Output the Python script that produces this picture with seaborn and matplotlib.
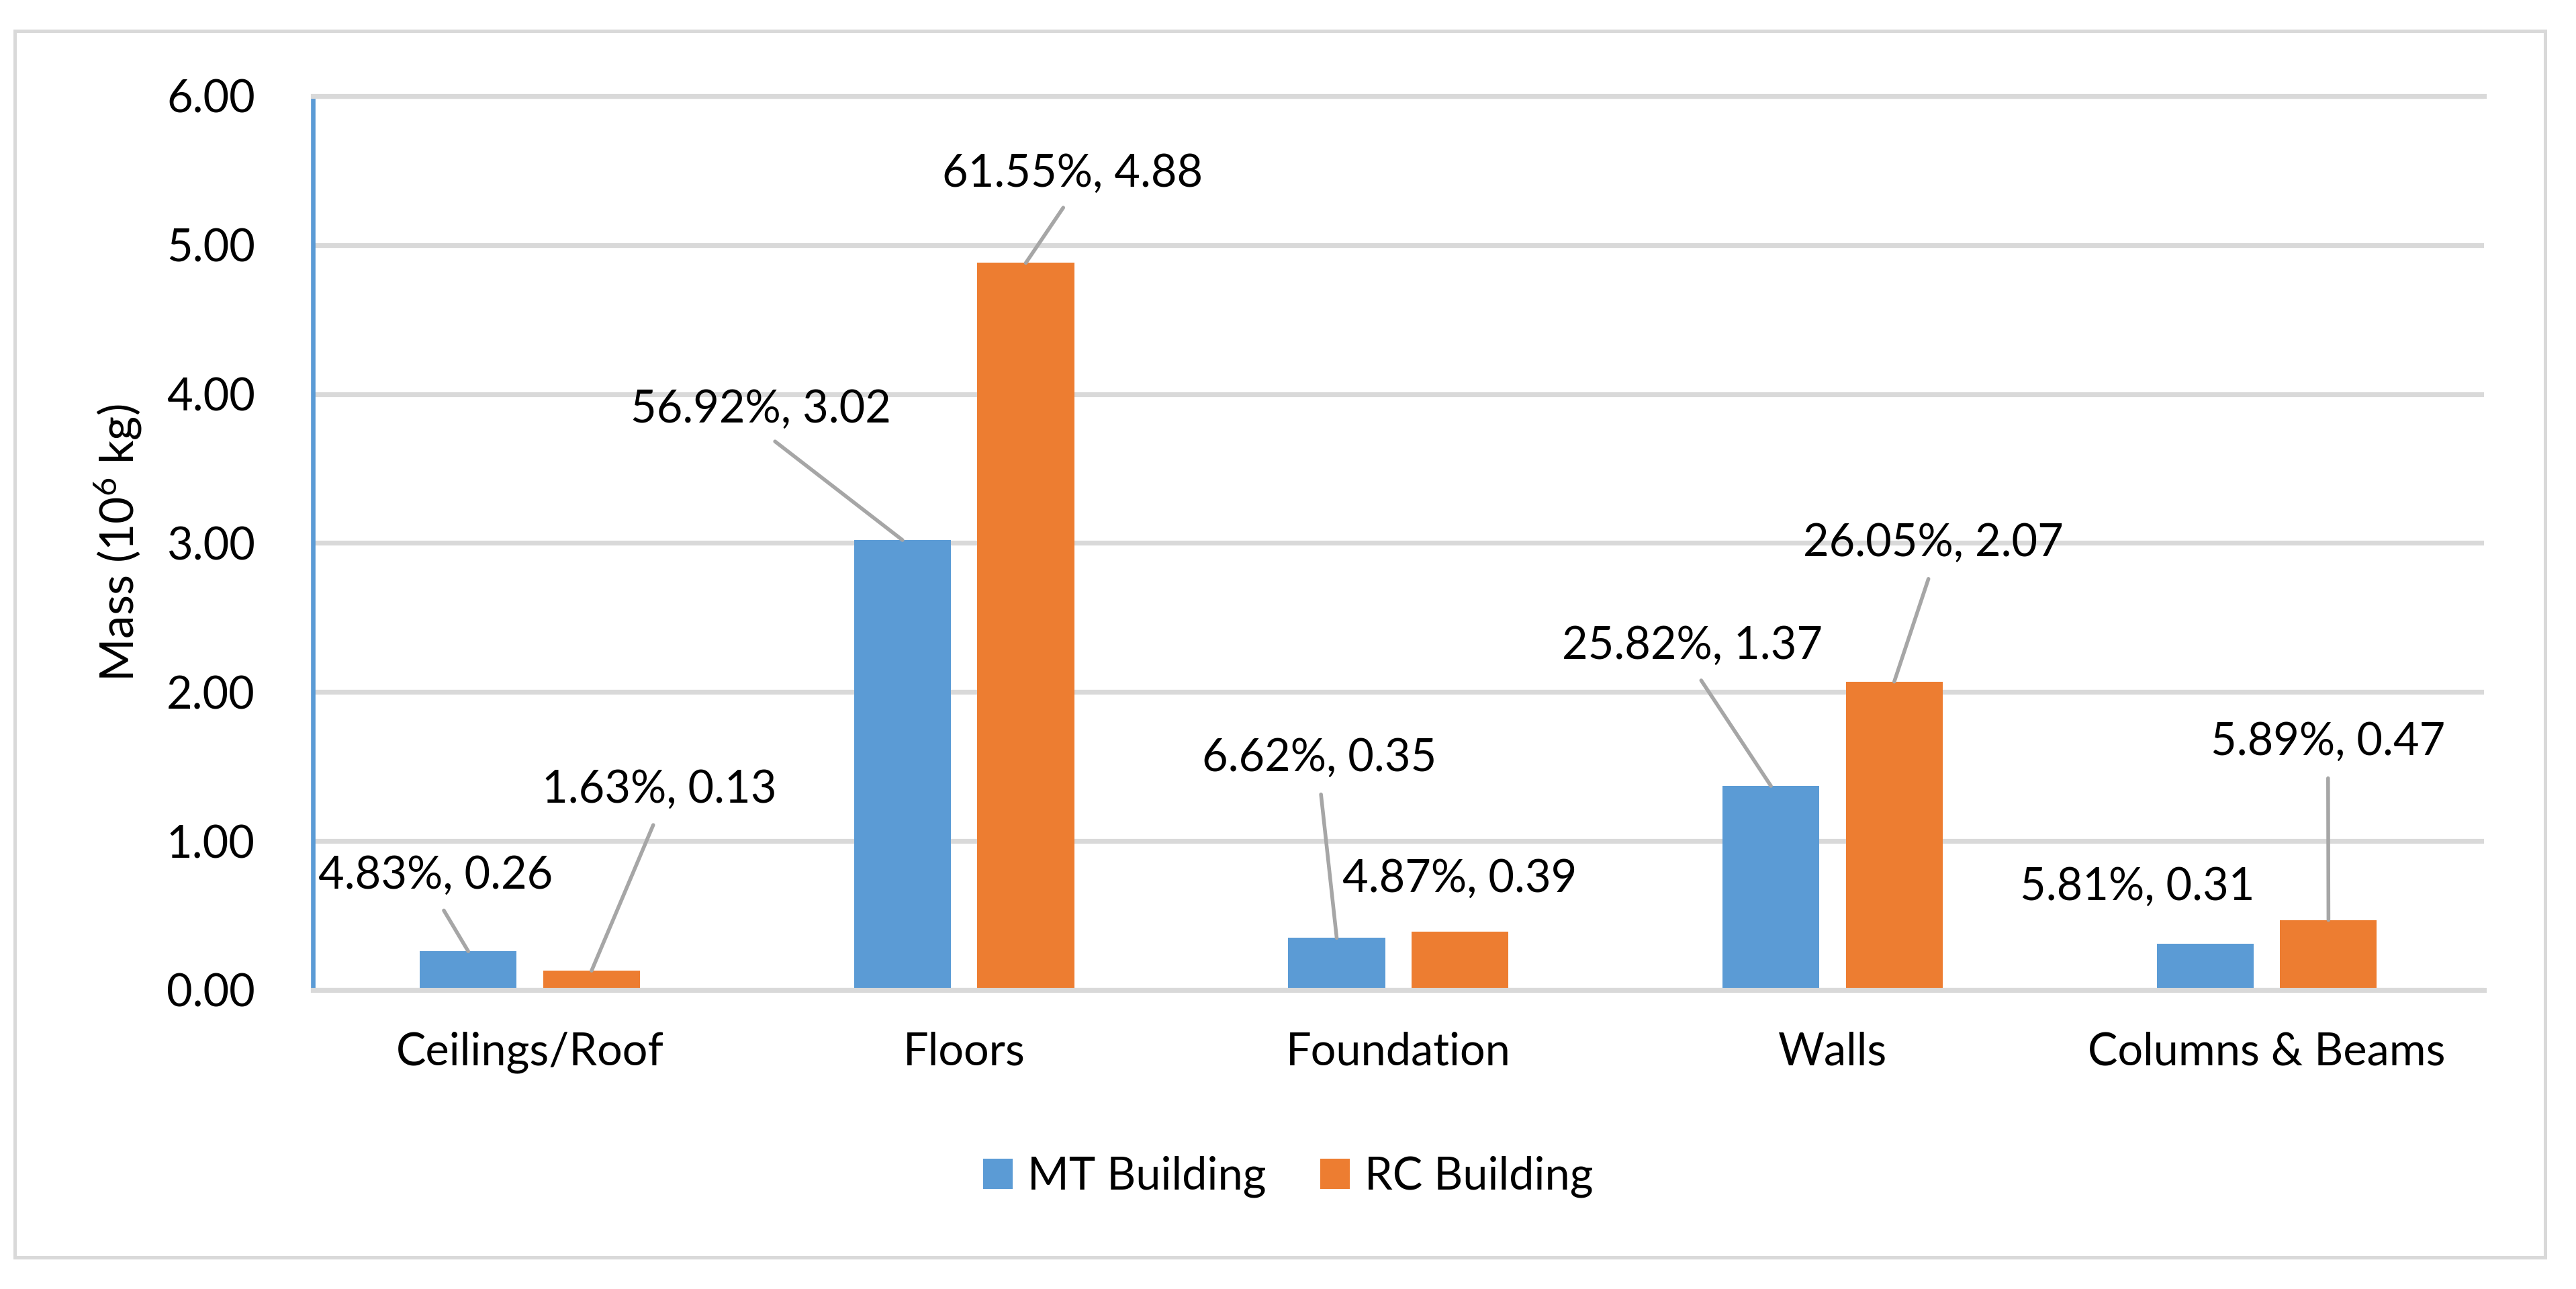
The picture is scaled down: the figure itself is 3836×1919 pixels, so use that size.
import pandas as pd
import matplotlib.pyplot as plt
import seaborn as sns
from matplotlib.patches import Rectangle

components = ['Ceilings/Roof', 'Floors', 'Foundation', 'Walls', 'Columns & Beams']
buildings = ['MT Building', 'RC Building']
mt_mass = [0.26, 3.02, 0.35, 1.37, 0.31]
rc_mass = [0.13, 4.88, 0.39, 2.07, 0.47]
mt_share = ['4.83%', '56.92%', '6.62%', '25.82%', '5.81%']
rc_share = ['1.63%', '61.55%', '4.87%', '26.05%', '5.89%']
y_ticks = [0, 1, 2, 3, 4, 5, 6]

# where the data labels sit (data coords) and whether they get a leader line
mt_label_pos = [(-0.217, 0.766), (0.532, 3.895), (1.818, 1.555), (2.677, 2.308), (3.702, 0.69)]
mt_leader = [True, True, True, True, False]
rc_label_pos = [(0.298, 1.344), (1.249, 5.48), (2.141, 0.744), (3.232, 2.998), (4.141, 1.664)]
rc_leader = [True, True, False, True, True]

df = pd.DataFrame({
    'component': components * 2,
    'building': [buildings[0]] * 5 + [buildings[1]] * 5,
    'mass': mt_mass + rc_mass,
})

sns.set_style('white')
plt.rcParams['font.family'] = ['Lato', 'DejaVu Sans']
plt.rcParams['mathtext.fontset'] = 'custom'
plt.rcParams['mathtext.rm'] = 'Lato'
plt.rcParams['mathtext.it'] = 'Lato:italic'
plt.rcParams['text.color'] = 'black'

fs = 24
blue = '#5b9bd5'
orange = '#ed7d31'
grid_gray = '#d9d9d9'
leader_gray = '#a6a6a6'

fig = plt.figure(figsize=(19.185, 9.595), dpi=200)
ax = fig.add_axes([0.1214, 0.2319, 0.8426, 0.6936])

sns.barplot(data=df, x='component', y='mass', hue='building', order=components,
            hue_order=buildings, palette=[blue, orange], saturation=1,
            width=0.568, gap=0.215, errorbar=None, linewidth=0, ax=ax)

ax.set_ylim(0, 6)
ax.set_xlim(-0.5, 4.5)
ax.set_yticks(y_ticks)
ax.set_yticklabels([f'{t:.2f}' for t in y_ticks])
ax.yaxis.grid(True, color=grid_gray, lw=2.6)
ax.set_axisbelow(True)
for side in ['top', 'bottom']:
    ax.spines[side].set_color(grid_gray)
    ax.spines[side].set_linewidth(2.6)
ax.spines['right'].set_visible(False)
ax.spines['left'].set_color(blue)
ax.spines['left'].set_linewidth(2.4)
ax.tick_params(axis='y', length=0, pad=31, labelsize=fs, labelcolor='black')
ax.tick_params(axis='x', length=0, pad=22, labelsize=fs, labelcolor='black')
ax.set_xlabel('')
ax.set_ylabel('Mass (10$^{6}$ kg)', fontsize=fs + 1, labelpad=12, color='black')

# data labels with leader lines
series = [(mt_mass, mt_share, mt_label_pos, mt_leader),
          (rc_mass, rc_share, rc_label_pos, rc_leader)]
for container, (vals, shares, positions, leaders) in zip(ax.containers, series):
    for bar, v, s, pos, lead in zip(container, vals, shares, positions, leaders):
        bx = bar.get_x() + bar.get_width() / 2
        arrow = None
        if lead:
            arrow = dict(arrowstyle='-', color=leader_gray, lw=2,
                         shrinkA=6, shrinkB=0, relpos=(0.5, 0))
        ax.annotate(f'{s}, {v:.2f}', xy=(bx, v), xytext=pos, textcoords='data',
                    ha='center', va='center', fontsize=fs, arrowprops=arrow)

handles, labels = ax.get_legend_handles_labels()
ax.get_legend().remove()
fig.legend(handles, labels, loc='center', bbox_to_anchor=(0.5, 0.087), ncol=2,
           frameon=False, fontsize=fs, handlelength=0.66, handleheight=0.65,
           handletextpad=0.33, columnspacing=1.2)

# outer chart border
fig.add_artist(Rectangle((22 / 3837, 1 - 1872 / 1919), (3790 - 22) / 3837, (1872 - 46) / 1919,
                         transform=fig.transFigure, fill=False, ec=grid_gray, lw=1.8))

fig.savefig('out.png', dpi=200)
plt.close()
